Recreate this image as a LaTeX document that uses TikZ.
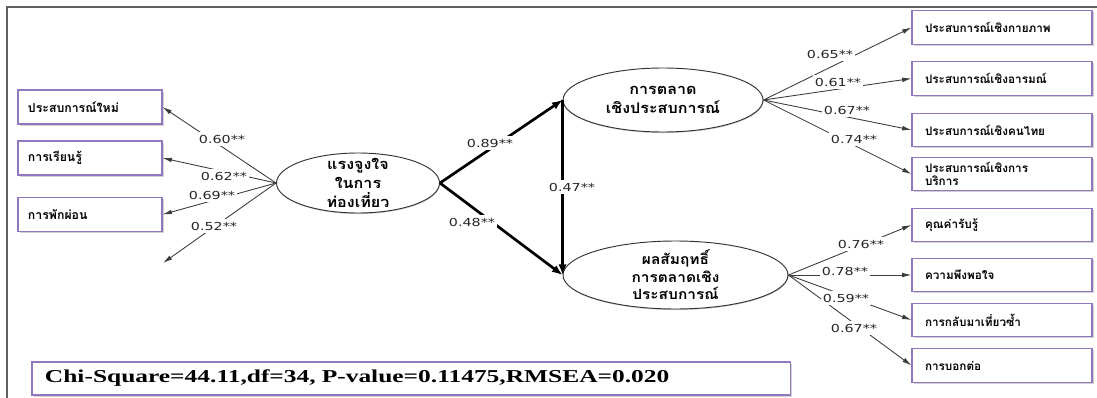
\documentclass[tikz,border=0pt]{standalone}
\usepackage{fontspec}
\setmainfont{Liberation Serif}
\newfontfamily\thaifont[Script=Thai]{Loma}
\newfontfamily\thaiwide[Script=Thai, FakeStretch=1.1]{Loma}
\newfontfamily\numfont[FakeStretch=1.3]{DejaVu Sans}
\newfontfamily\statfont[FakeStretch=1.4]{Liberation Serif}
\usetikzlibrary{arrows.meta,shapes.geometric,shadows}
\definecolor{boxline}{RGB}{145,120,190}
\definecolor{frameline}{RGB}{95,95,95}
\definecolor{pathline}{RGB}{60,60,60}

\begin{document}
\begin{tikzpicture}[x=0.03cm,y=-0.03cm,
    box/.style={draw=boxline, line width=0.9pt, fill=white, align=left,
      drop shadow={shadow xshift=1.3pt, shadow yshift=-1.3pt, fill=black!35},
      font=\thaifont\bfseries\fontsize{10.5}{12}\selectfont},
    leftbox/.style={box, minimum width=4.32cm, minimum height=1.02cm, text width=3.72cm, inner xsep=0.3cm},
    rightbox/.style={box, minimum width=5.4cm, minimum height=1cm, text width=4.62cm, inner xsep=0.39cm,
      font=\thaifont\bfseries\fontsize{10}{11}\selectfont},
    oval/.style={ellipse, draw=black!80, line width=0.8pt, fill=white, inner sep=0pt,
      drop shadow={shadow xshift=0.4pt, shadow yshift=-0.9pt, fill=black!40}},
    ovaltext/.style={align=center, font=\thaiwide\bfseries\fontsize{12.5}{16.5}\selectfont},
    lbl/.style={fill=white, inner xsep=2pt, inner ysep=2.5pt, text=black!85, font=\numfont\fontsize{9.4}{10}\selectfont},
    thinarrow/.style={draw=pathline, line width=0.75pt, -{Latex[length=8pt, width=4pt]}},
    thickarrow/.style={draw=black, line width=2.3pt, -{Latex[length=9pt, width=7pt]}}
  ]
  \useasboundingbox (0,0) rectangle (1097,398);
  \draw[frameline, line width=1.5pt] (7,398) -- (7,7) -- (1097,7);

  % latent variables
  \node[oval, minimum width=4.89cm, minimum height=1.8cm,
    label={[ovaltext]center:{แรงจูงใจ\\ในการ\\ท่องเที่ยว}}] (motive) at (358,183) {};
  \node[oval, minimum width=6cm, minimum height=1.92cm,
    label={[ovaltext, font=\thaiwide\bfseries\fontsize{12.5}{15.5}\selectfont]center:{การตลาด\\เชิงประสบการณ์}}] (expmkt) at (663,100) {};
  \node[oval, minimum width=6.75cm, minimum height=2.04cm,
    label={[ovaltext, font=\thaiwide\bfseries\fontsize{12}{15}\selectfont]center:{ผลสัมฤทธิ์\\การตลาดเชิง\\ประสบการณ์}}] (outcome) at (675.5,275) {};

  % observed variables
  \node[leftbox] (newexp) at (90,107) {ประสบการณ์ใหม่};
  \node[leftbox] (learn) at (90,158) {การเรียนรู้};
  \node[leftbox] (rest) at (90,214.5) {การพักผ่อน};
  \coordinate (err) at (163,263);

  \node[rightbox] (phys) at (1002,27.5) {ประสบการณ์เชิงกายภาพ};
  \node[rightbox] (emo) at (1002,78.5) {ประสบการณ์เชิงอารมณ์};
  \node[rightbox] (thai) at (1002,130) {ประสบการณ์เชิงคนไทย};
  \node[rightbox, font=\thaifont\bfseries\fontsize{10}{10.5}\selectfont] (serv) at (1002,174) {ประสบการณ์เชิงการ\\บริการ};
  \node[rightbox] (value) at (1002,225) {คุณค่ารับรู้};
  \node[rightbox] (satis) at (1002,275) {ความพึงพอใจ};
  \node[rightbox] (revisit) at (1002,320) {การกลับมาเที่ยวซ้ำ};
  \node[rightbox] (wom) at (1002,365.5) {การบอกต่อ};

  \node[box, minimum width=22.74cm, minimum height=0.99cm, text width=21.96cm, inner xsep=0.39cm,
    font=\statfont\bfseries\fontsize{15.5}{17}\selectfont] (fit) at (411,378.5)
    {Chi-Square=44.11,df=34, P-value=0.11475,RMSEA=0.020};

  % paths
  \foreach \t in {newexp,learn,rest}
    \draw[thinarrow] (motive.west) -- (\t.east);
  \draw[thinarrow] (motive.west) -- (err);
  \foreach \t in {phys,emo,thai,serv}
    \draw[thinarrow] (expmkt.east) -- (\t.west);
  \foreach \t in {value,satis,revisit,wom}
    \draw[thinarrow] (outcome.east) -- (\t.west);

  \draw[thickarrow] (motive.east) -- (expmkt.west);
  \draw[thickarrow] (motive.east) -- (outcome.west);
  \draw[thickarrow] (expmkt.west) -- (outcome.west);

  % loadings
  \node[lbl] (l60) at (222,139) {0.60**};
  \node[lbl] (l62) at (224,176) {0.62**};
  \node[lbl] (l69) at (212,195) {0.69**};
  \node[lbl] (l52) at (214,226) {0.52**};
  \node[lbl] (l89) at (490,143) {0.89**};
  \node[lbl] (l48) at (472,222) {0.48**};
  \node[lbl] (l47) at (572,187) {0.47**};
  \node[lbl] (l65) at (830,54) {0.65**};
  \node[lbl] (l61) at (838,82) {0.61**};
  \node[lbl] (l67a) at (847,110) {0.67**};
  \node[lbl] (l74) at (854,139) {0.74**};
  \node[lbl] (l76) at (861,244) {0.76**};
  \node[lbl] (l78) at (845,271) {0.78**};
  \node[lbl] (l59) at (846,298) {0.59**};
  \node[lbl] (l67b) at (854,328) {0.67**};
\end{tikzpicture}
\end{document}
